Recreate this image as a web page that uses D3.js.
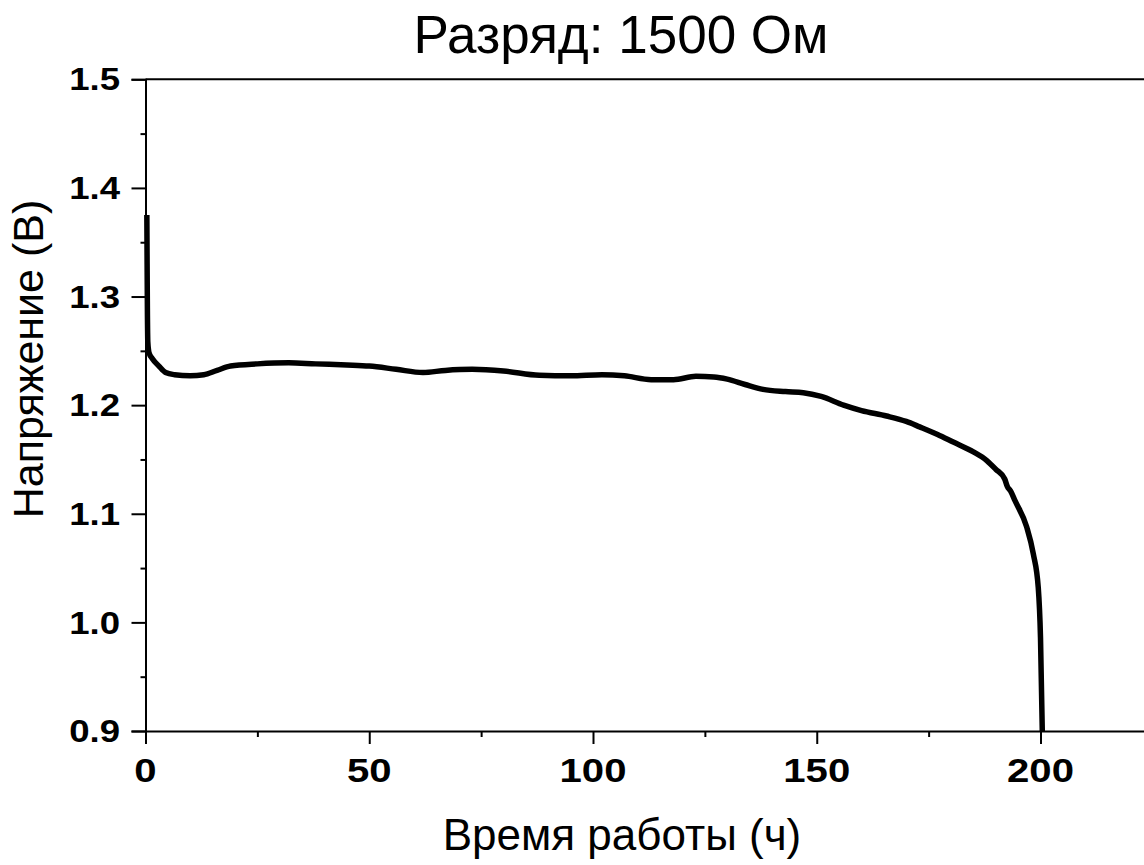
<!DOCTYPE html>
<html>
<head>
<meta charset="utf-8">
<script src="https://cdn.jsdelivr.net/npm/d3@7.9.0/dist/d3.min.js"></script>
<style>
  body { margin: 0; background: #fff; }
  svg { display: block; font-family: 'Liberation Sans', Arial, sans-serif; }
  .tick-label { font-weight: bold; fill: #000; }
</style>
</head>
<body>
<svg id="chart" width="1144" height="865"></svg>
<script>
// discharge curve, 1500 Ohm load
const hours = [0.3, 0.36, 0.42, 0.52, 0.8, 1.5, 3, 4.5, 6.5, 10, 13, 16, 19, 25, 32, 38, 45, 50, 56, 62, 67, 73,
  80, 88, 95, 102, 107, 113, 118, 123, 127, 130, 134, 138, 143, 147, 151, 156, 160, 165.6, 170, 173, 177,
  180.5, 185, 188, 190, 192, 192.6, 193.3, 194.3, 196.9, 198.4, 199.5, 200, 200.4];
const volts = [1.375, 1.33, 1.29, 1.258, 1.248, 1.243, 1.236, 1.230, 1.228, 1.227, 1.228, 1.232, 1.236, 1.238, 1.239, 1.238, 1.237, 1.236, 1.233, 1.230, 1.232, 1.233,
  1.2315, 1.2275, 1.227, 1.228, 1.227, 1.2235, 1.2235, 1.2265, 1.226, 1.224, 1.219, 1.2145, 1.2125, 1.2115, 1.208, 1.200, 1.195, 1.190, 1.185, 1.180, 1.173,
  1.166, 1.157, 1.149, 1.141, 1.132, 1.125, 1.121, 1.112, 1.088, 1.063, 1.032, 0.986, 0.9];

const xMajor = [0, 50, 100, 150, 200];
const xMinor = [25, 75, 125, 175, 225];
const yMajor = [0.9, 1.0, 1.1, 1.2, 1.3, 1.4, 1.5];
const yMinor = [0.95, 1.05, 1.15, 1.25, 1.35, 1.45];

const title = 'Разряд: 1500 Ом';
const xTitle = 'Время работы (ч)';
const yTitle = 'Напряжение (В)';

const svg = d3.select('#chart');
const plotLeft = 145.5, plotTop = 79.3, plotBottom = 731;
const stretch = 1.18; // tick labels in the source are drawn wider than they are tall

const x = d3.scaleLinear().domain([0, 230]).range([plotLeft, plotLeft + 230 * 4.475]);
const y = d3.scaleLinear().domain([0.9, 1.5]).range([plotBottom, plotTop]);

// frame top line
svg.append('line')
  .attr('x1', plotLeft).attr('x2', 1144)
  .attr('y1', plotTop).attr('y2', plotTop)
  .attr('stroke', '#000').attr('stroke-width', 2);

// x axis
const xAxis = svg.append('g').attr('transform', `translate(0,${plotBottom})`);
xAxis.call(d3.axisBottom(x).tickValues(xMajor).tickSize(13).tickFormat(''));
const xMinorG = xAxis.append('g').call(d3.axisBottom(x).tickValues(xMinor).tickSize(6).tickFormat(''));
xMinorG.select('path.domain').remove();
xAxis.selectAll('path.domain').attr('stroke-width', 2);
xAxis.selectAll('line').attr('stroke-width', 2);

svg.selectAll('.xlab')
  .data(xMajor)
  .enter()
  .append('text')
  .attr('class', 'tick-label')
  .attr('transform', (d) => `translate(${x(d)},782) scale(${stretch},1)`)
  .attr('text-anchor', 'middle')
  .attr('font-size', 34)
  .text((d) => d);

// y axis
const yAxis = svg.append('g').attr('transform', `translate(${plotLeft},0)`);
yAxis.call(d3.axisLeft(y).tickValues(yMajor).tickSize(14).tickFormat(''));
const yMinorG = yAxis.append('g').call(d3.axisLeft(y).tickValues(yMinor).tickSize(5).tickFormat(''));
yMinorG.select('path.domain').remove();
yAxis.selectAll('path.domain').attr('stroke-width', 2);
yAxis.selectAll('line').attr('stroke-width', 2);

svg.selectAll('.ylab')
  .data(yMajor)
  .enter()
  .append('text')
  .attr('class', 'tick-label')
  .attr('transform', (d) => `translate(120,${y(d)}) scale(${stretch},1)`)
  .attr('dy', '0.36em')
  .attr('text-anchor', 'end')
  .attr('font-size', 31)
  .text((d) => d.toFixed(1));

// curve
const data = hours.map((h, i) => ({ h: h, v: volts[i] }));
const line = d3.line()
  .x((d) => x(d.h))
  .y((d) => y(d.v))
  .curve(d3.curveMonotoneX);

svg.append('path')
  .datum(data)
  .attr('d', line)
  .attr('fill', 'none')
  .attr('stroke', '#000')
  .attr('stroke-width', 5.5)
  .attr('stroke-linejoin', 'round');

// titles
svg.append('text')
  .attr('x', 621).attr('y', 53)
  .attr('text-anchor', 'middle')
  .attr('font-size', 53)
  .text(title);

svg.append('text')
  .attr('x', 622).attr('y', 850)
  .attr('text-anchor', 'middle')
  .attr('font-size', 44)
  .text(xTitle);

svg.append('text')
  .attr('transform', 'translate(43,359) rotate(-90)')
  .attr('text-anchor', 'middle')
  .attr('font-size', 43)
  .text(yTitle);
</script>
</body>
</html>
